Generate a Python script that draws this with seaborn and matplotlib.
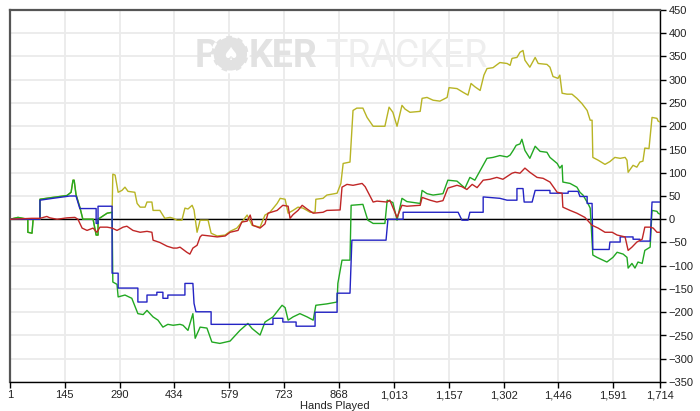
import numpy as np
import pandas as pd
import matplotlib
matplotlib.use("Agg")
import matplotlib.pyplot as plt
import matplotlib.ticker as mticker
import seaborn as sns

# ── Data (hands played -> cumulative $) ─────────────────────────────────────
green_hands = [1, 22, 48, 48, 59, 62, 80, 80, 114, 151, 162, 167, 170, 175, 185, 193, 220, 228, 233, 233,
               257, 270, 272, 283, 286, 304, 322, 338, 352, 362, 378, 391, 404, 417, 431, 449, 457, 470,
               483, 489, 502, 520, 533, 554, 581, 607, 628, 639, 660, 673, 694, 718, 726, 734, 747, 765,
               784, 800, 807, 836, 863, 865, 876, 897, 900, 931, 944, 958, 989, 995, 1010, 1021, 1034,
               1047, 1082, 1087, 1100, 1116, 1142, 1155, 1179, 1200, 1213, 1226, 1248, 1258, 1274, 1292,
               1311, 1319, 1327, 1335, 1345, 1350, 1358, 1371, 1385, 1398, 1416, 1424, 1443, 1450, 1456,
               1458, 1477, 1495, 1503, 1511, 1524, 1530, 1537, 1548, 1574, 1590, 1601, 1617, 1627, 1630,
               1640, 1648, 1656, 1667, 1674, 1688, 1693, 1706, 1709, 1714]
green_vals = [0, 4, 0, -28, -30, 0, 0, 43, 47, 51, 58, 84, 84, 53, 26, 0, 0, -34, -34, 0,
              13, 15, -135, -140, -167, -163, -170, -203, -205, -196, -210, -217, -232, -226, -228, -226, -228, -239,
              -203, -256, -232, -234, -264, -267, -262, -239, -224, -235, -249, -221, -210, -185, -190, -217, -210, -203,
              -210, -217, -185, -182, -178, -138, -88, -88, 30, 32, -2, -9, -9, 41, 36, -2, 45,
              38, 34, 62, 55, 52, 55, 84, 82, 67, 90, 84, 116, 131, 133, 137,
              134, 138, 148, 159, 162, 172, 148, 131, 157, 146, 144, 133, 120, 110, 116,
              80, 77, 69, 58, 52, 34, 24, -77, -82, -92, -82, -71, -75, -82, -105,
              -95, -105, -92, -95, -67, -60, 19, 17, 13, 11]

blue_hands = [1, 80, 80, 114, 159, 175, 185, 228, 228, 233, 233, 270, 270, 286, 286, 338, 338, 362, 362,
              388, 388, 404, 404, 417, 417, 462, 462, 483, 486, 491, 531, 531, 694, 694, 720, 720, 755,
              755, 805, 805, 863, 863, 897, 902, 992, 997, 1037, 1037, 1182, 1192, 1208, 1213, 1248,
              1248, 1292, 1311, 1337, 1337, 1353, 1356, 1377, 1385, 1424, 1424, 1472, 1472, 1498, 1503,
              1522, 1522, 1535, 1537, 1580, 1582, 1609, 1609, 1643, 1643, 1661, 1661, 1688, 1693, 1714]
blue_vals = [0, 0, 41, 45, 50, 50, 23, 23, -9, -9, 28, 28, -116, -116, -148, -148, -178, -178, -163,
             -163, -157, -157, -170, -170, -163, -163, -138, -138, -181, -199, -199, -226, -226, -213, -213, -221, -221,
             -230, -230, -200, -200, -159, -159, -45, -45, 0, 0, 15, 15, -2, -2, 15, 15,
             48, 45, 41, 41, 66, 66, 37, 37, 62, 62, 56, 56, 60, 60, 49,
             49, 34, 34, -65, -65, -49, -49, -38, -38, -43, -43, -47, -47, 37, 37]

red_hands = [1, 59, 80, 98, 106, 125, 151, 172, 180, 191, 204, 220, 230, 238, 257, 270, 283, 299, 309,
             325, 344, 362, 375, 378, 396, 415, 431, 441, 449, 467, 475, 483, 494, 502, 507, 528, 547,
             568, 581, 602, 612, 626, 634, 641, 660, 673, 681, 705, 720, 734, 739, 747, 760, 771, 784,
             800, 826, 836, 871, 876, 889, 905, 929, 937, 958, 968, 995, 1002, 1021, 1034, 1047, 1082,
             1087, 1108, 1126, 1142, 1155, 1179, 1192, 1205, 1219, 1232, 1248, 1266, 1284, 1300, 1324,
             1332, 1345, 1358, 1371, 1390, 1406, 1424, 1443, 1456, 1458, 1477, 1495, 1516, 1535, 1551,
             1569, 1588, 1601, 1622, 1630, 1640, 1653, 1667, 1674, 1688, 1696, 1706, 1714]
red_vals = [0, 2, 2, 6, 3, 0, 3, 4, 0, -19, -24, -19, -28, -17, -17, -19, -24, -17, -15,
            -24, -28, -26, -28, -45, -50, -58, -62, -62, -60, -71, -75, -62, -56, -38, -34, -36, -38,
            -36, -28, -24, -6, -4, 9, -13, -19, -10, 13, 19, 30, 28, 2, 10, 19, 30, 22,
            13, 15, 19, 20, 69, 75, 73, 77, 70, 37, 39, 37, 41, 4, 30, 28, 30,
            47, 41, 37, 40, 67, 73, 70, 64, 75, 68, 84, 86, 90, 86, 99,
            101, 99, 110, 101, 90, 88, 80, 58, 56, 26, 19, 13, 4, -13, -19,
            -28, -28, -34, -38, -67, -60, -49, -43, -17, -17, -19, -28, -28]

# yellow sits under green until it breaks away at hand ~270
yellow_hands = green_hands[:22] + [
    272, 278, 286, 296, 304, 312, 330, 336, 344, 357, 362, 375, 378, 396, 409, 423, 431, 441, 454,
    462, 470, 481, 486, 494, 502, 523, 531, 547, 568, 581, 599, 612, 626, 639, 660, 673, 686, 705,
    713, 726, 734, 747, 760, 773, 792, 805, 807, 826, 836, 863, 873, 879, 897, 905, 915, 931, 942,
    958, 989, 1000, 1010, 1021, 1034, 1042, 1055, 1082, 1087, 1100, 1116, 1134, 1153, 1158, 1179,
    1195, 1208, 1216, 1226, 1240, 1250, 1258, 1274, 1292, 1311, 1319, 1324, 1337, 1345, 1353, 1358,
    1371, 1385, 1393, 1416, 1424, 1432, 1445, 1450, 1456, 1469, 1482, 1495, 1508, 1522, 1530, 1535,
    1537, 1551, 1569, 1582, 1595, 1609, 1622, 1627, 1630, 1643, 1653, 1661, 1669, 1674, 1685, 1693,
    1706, 1709, 1714]
yellow_vals = green_vals[:22] + [
    97, 95, 58, 62, 69, 60, 58, 34, 26, 26, 37, 37, 19, 19, 2, 4, 2, -2, -2,
    24, 22, 30, 20, -28, -2, -2, -30, -36, -34, -26, -19, -6, 9, -13, -17, 9, 15, 34,
    45, 43, 13, 19, 26, 24, 15, 15, 43, 45, 52, 56, 77, 120, 123, 234, 239, 239, 219,
    200, 200, 241, 230, 200, 245, 237, 230, 232, 260, 262, 256, 254, 262, 283, 281,
    273, 267, 292, 285, 277, 310, 324, 326, 337, 335, 331, 346, 348, 359, 363, 342,
    327, 348, 335, 333, 327, 307, 303, 310, 271, 269, 269, 260, 249, 234, 213, 213,
    133, 127, 118, 124, 133, 131, 133, 127, 101, 116, 112, 123, 125, 153, 152, 219,
    217, 211, 209]

x_ticks = [1, 145, 290, 434, 579, 723, 868, 1013, 1157, 1302, 1446, 1591, 1714]
y_ticks = list(range(-350, 451, 50))

COLORS = {"yellow": "#b8b424", "green": "#22a822", "blue": "#2424c4", "red": "#c02626"}

# ── Build long frame ─────────────────────────────────────────────────────────
frames = []
for name, h, v in [("yellow", yellow_hands, yellow_vals), ("green", green_hands, green_vals),
                   ("blue", blue_hands, blue_vals), ("red", red_hands, red_vals)]:
    frames.append(pd.DataFrame({"hand": h, "value": v, "series": name}))
df = pd.concat(frames, ignore_index=True)

# ── Plot ─────────────────────────────────────────────────────────────────────
sns.set_theme(style="white")
plt.rcParams["font.family"] = ["Liberation Sans", "DejaVu Sans"]

fig = plt.figure(figsize=(7.0, 4.11), dpi=100)
ax = fig.add_axes([10 / 700, 1 - 382 / 411, 650 / 700, 372 / 411])

ax.set_xlim(1, 1714)
ax.set_ylim(-350, 450)
ax.set_xticks(x_ticks)
ax.set_yticks(y_ticks)
ax.grid(True, color="#ebebeb", linewidth=1.3)
ax.set_axisbelow(True)

# watermark: P (chip) KER TRACKER
wm_y = 0.876
wm_font = ["Roboto", "DejaVu Sans"]
ax.text(0.284, wm_y, "P", transform=ax.transAxes, fontsize=27, fontweight="bold",
        color="#e2e2e2", ha="left", va="center", family=wm_font, zorder=1)
ax.scatter([0.339], [0.882], s=26 ** 2, transform=ax.transAxes, color="#e2e2e2",
           edgecolors="white", linewidths=2.0, linestyles=(0, (2.2, 2.2)), zorder=1, clip_on=False)
ax.text(0.339, 0.880, "\u2660", transform=ax.transAxes, fontsize=13, color="white",
        ha="center", va="center", family=["DejaVu Sans"], zorder=1)
ax.text(0.367, wm_y, "KER", transform=ax.transAxes, fontsize=27, fontweight="bold",
        color="#e2e2e2", ha="left", va="center", family=wm_font, zorder=1)
ax.text(0.484, wm_y, "TRACKER", transform=ax.transAxes, fontsize=27,
        color="#eeeeee", ha="left", va="center", family=wm_font, zorder=1)

ax.axhline(0, color="black", linewidth=1.0, zorder=2)

sns.lineplot(data=df, x="hand", y="value", hue="series", units="series", hue_order=list(COLORS),
             palette=COLORS, estimator=None, sort=False, legend=False, linewidth=1.0, ax=ax, zorder=3)

ax.yaxis.tick_right()
ax.xaxis.set_major_formatter(mticker.FuncFormatter(lambda x, _: f"{x:,.0f}"))
ax.tick_params(axis="both", direction="out", length=4, width=1, colors="black",
               labelsize=8, labelcolor="#222222", pad=2)
ax.tick_params(axis="y", right=True, left=False)
ax.tick_params(axis="x", bottom=True)

for side in ["left", "top"]:
    ax.spines[side].set_color("#555555")
    ax.spines[side].set_linewidth(1.6)
for side in ["right", "bottom"]:
    ax.spines[side].set_color("black")
    ax.spines[side].set_linewidth(1.0)

ax.set_xlabel("")
ax.set_ylabel("")
fig.text(335 / 700, 1 - 400.5 / 411, "Hands Played", ha="center", va="top", fontsize=8, color="#222222")

fig.savefig("out.png", dpi=100)
